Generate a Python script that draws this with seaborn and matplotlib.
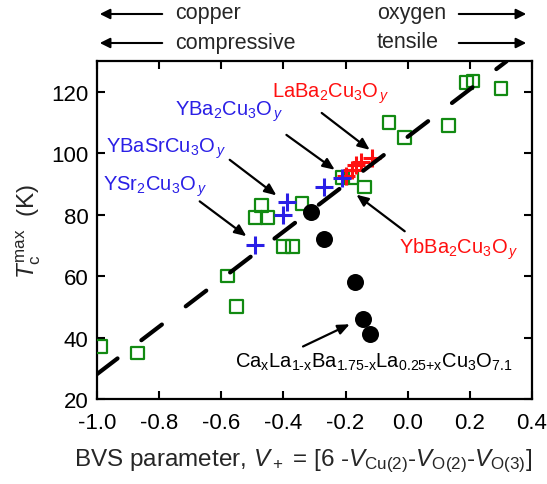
import numpy as np
import pandas as pd
import matplotlib
matplotlib.use("Agg")
import matplotlib.pyplot as plt
import seaborn as sns

# ---- data ----
sq_x = [-0.99, -0.87, -0.58, -0.55, -0.49, -0.47, -0.45, -0.40, -0.37, -0.34,
        -0.21, -0.18, -0.14, -0.06, -0.01, 0.13, 0.19, 0.21, 0.30]
sq_y = [37, 35, 60, 50, 79, 83, 79, 69.5, 69.5, 83.5,
        92, 92, 89, 110, 105, 109, 123, 123.5, 121]

red_x = [-0.20, -0.18, -0.165, -0.15, -0.115]
red_y = [92.5, 94.5, 96, 97, 98.5]

blue_x = [-0.49, -0.40, -0.39, -0.27, -0.21]
blue_y = [70, 80, 84, 89, 92]

blk_x = [-0.31, -0.27, -0.17, -0.145, -0.12]
blk_y = [81, 72, 58, 46, 41]

fit_x = [-1.0, 0.318]
fit_y = [28.1, 129.9]

x_ticks = [-1.0, -0.8, -0.6, -0.4, -0.2, 0.0, 0.2, 0.4]
y_ticks = [20, 40, 60, 80, 100, 120]

# ---- style ----
sns.set_style("ticks")
plt.rcParams['font.family'] = ['Liberation Sans', 'DejaVu Sans']
plt.rcParams['mathtext.fontset'] = 'custom'
plt.rcParams['mathtext.rm'] = 'Liberation Sans'
plt.rcParams['mathtext.it'] = 'Liberation Sans:italic'
plt.rcParams['mathtext.bf'] = 'Liberation Sans:bold'
plt.rcParams['axes.unicode_minus'] = False

W, H = 547, 485
fig = plt.figure(figsize=(W / 100, H / 100), dpi=100)
L, R, T, B = 97, 532, 62, 400
ax = fig.add_axes([L / W, 1 - B / H, (R - L) / W, (B - T) / H])

GREEN = "#128a12"
BLUE = "#2a1fe6"
RED = "#ff1010"

sns.scatterplot(x=sq_x, y=sq_y, ax=ax, marker="s", s=85, facecolor="none",
                edgecolor=GREEN, linewidth=1.6, zorder=3)
sns.scatterplot(x=red_x, y=red_y, ax=ax, marker="+", s=170, color=RED,
                linewidth=2.2, zorder=4)
sns.scatterplot(x=blue_x, y=blue_y, ax=ax, marker="+", s=170, color=BLUE,
                linewidth=2.2, zorder=5)
sns.scatterplot(x=blk_x, y=blk_y, ax=ax, marker="o", s=150, color="black",
                linewidth=0, zorder=6)
sns.lineplot(x=fit_x, y=fit_y, ax=ax, color="black", linewidth=3.0, zorder=7)
ln = ax.lines[-1]
ln.set_linestyle((0, (6.2, 7.2)))
ln.set_dash_capstyle("round")

ax.set_xlim(-1.0, 0.4)
ax.set_ylim(20, 130)
ax.set_xticks(x_ticks)
ax.set_xticklabels([f"{v:.1f}" for v in x_ticks])
ax.set_yticks(y_ticks)
ax.tick_params(axis="both", which="major", direction="in", top=True, right=True,
               length=6, width=1.5, labelsize=16, colors="black")
ax.tick_params(axis="x", pad=9.5)
ax.tick_params(axis="y", pad=6)
for s in ax.spines.values():
    s.set_linewidth(1.6)
    s.set_color("black")

ax.set_xlabel(r"BVS parameter, $V_+$ = [6 -$V_{\rm Cu(2)}$-$V_{\rm O(2)}$-$V_{\rm O(3)}$]",
              fontsize=17.5, labelpad=10)
ax.xaxis.label.set_x((303 - L) / (R - L))
ax.set_ylabel(r"$T_{\rm c}^{\rm max}$  (K)", fontsize=17.5, labelpad=6)


def dx(px):
    return (px - 408) / 310.7


def dy(py):
    return 20 + (400 - py) / 3.083


afs = 14.5
labels = [
    (r"LaBa$_2$Cu$_3$O$_{\,y}$", 272, 97, RED),
    (r"YBa$_2$Cu$_3$O$_{\,y}$", 175, 115, BLUE),
    (r"YBaSrCu$_3$O$_{\,y}$", 106.7, 151.7, BLUE),
    (r"YSr$_2$Cu$_3$O$_{\,y}$", 103.3, 190, BLUE),
    (r"YbBa$_2$Cu$_3$O$_{\,y}$", 399.3, 253.3, RED),
    (r"Ca$_{\rm x}$La$_{\rm 1\text{-}x}$Ba$_{\rm 1.75\text{-}x}$La$_{\rm 0.25\text{+}x}$Cu$_{\rm 3}$O$_{\rm 7.1}$",
     235, 367.3, "black"),
]
for txt, px, py, c in labels:
    ax.text(dx(px), dy(py), txt, color=c, fontsize=afs, ha="left", va="baseline",
            zorder=8)

arrows = [
    ((322, 113), (370, 150)),
    ((286.7, 135), (335, 170)),
    ((230, 160), (276.7, 195.7)),
    ((200, 201.7), (246.7, 236.7)),
    ((405, 231.7), (356.7, 195)),
    ((303.3, 347.3), (350, 325)),
]
for (x0, y0), (x1, y1) in arrows:
    ax.annotate("", xy=(dx(x1), dy(y1)), xytext=(dx(x0), dy(y0)),
                arrowprops=dict(arrowstyle="-|>,head_length=0.7,head_width=0.3",
                                color="black", lw=1.6, shrinkA=0, shrinkB=0),
                zorder=8)


# ---- top indicators ----
def fp(px, py):
    return (px / W, 1 - py / H)


tfs = 15.5
for label, ytxt in [("copper", 14), ("compressive", 43)]:
    fig.text(*fp(175, ytxt), label, fontsize=tfs, ha="left", va="center")
    fig.patches.append(matplotlib.patches.FancyArrowPatch(
        fp(165, ytxt + 1), fp(97, ytxt + 1), transform=fig.transFigure,
        arrowstyle="-|>,head_length=6,head_width=3", color="black", lw=1.5,
        mutation_scale=1))
for label, ytxt in [("oxygen", 14), ("tensile", 43)]:
    fig.text(*fp(377, ytxt), label, fontsize=tfs, ha="left", va="center")
    fig.patches.append(matplotlib.patches.FancyArrowPatch(
        fp(456, ytxt + 1), fp(529, ytxt + 1), transform=fig.transFigure,
        arrowstyle="-|>,head_length=6,head_width=3", color="black", lw=1.5,
        mutation_scale=1))

fig.savefig("out.png", dpi=100)
